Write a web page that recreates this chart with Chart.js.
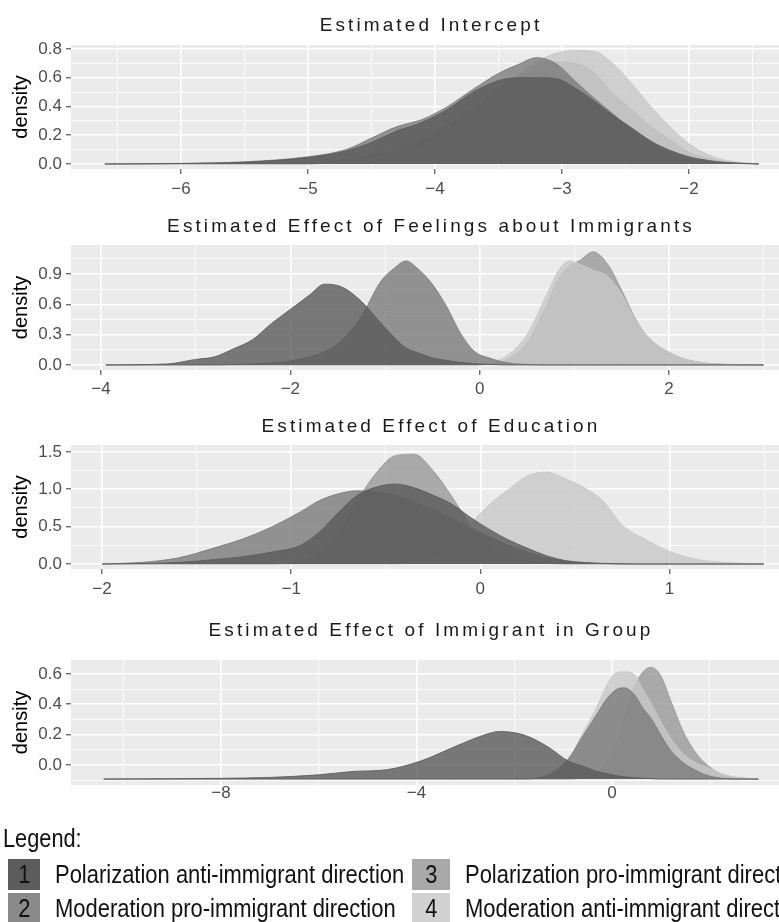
<!DOCTYPE html>
<html>
<head>
<meta charset="utf-8">
<script src="https://cdn.jsdelivr.net/npm/chart.js@4.4.1/dist/chart.umd.min.js"></script>
<style>
  html, body { margin: 0; padding: 0; background: #fff; width: 779px; height: 922px; overflow: hidden; }
  canvas { position: absolute; left: 0; }
  #legend { position: absolute; left: 0; top: 0; width: 779px; height: 922px; pointer-events: none;
            font-family: 'Liberation Sans', Arial, sans-serif; color: #111; }
  #legend .head { position: absolute; left: 3px; top: 824px; font-size: 25px; line-height: 28px;
                  transform: scaleX(0.87); transform-origin: left center; }
  #legend .box { position: absolute; height: 31px; text-align: center; line-height: 31px; font-size: 26px; }
  #legend .box span { display: inline-block; transform: scaleX(0.84); }
  #legend .lab { position: absolute; font-size: 26px; line-height: 31px; white-space: nowrap;
                 transform: scaleX(0.845); transform-origin: left center; }
</style>
</head>
<body>
<canvas id="p1" width="779" height="200" style="top:0px"></canvas>
<canvas id="p2" width="779" height="200" style="top:200px"></canvas>
<canvas id="p3" width="779" height="200" style="top:400px"></canvas>
<canvas id="p4" width="779" height="215" style="top:600px"></canvas>
<div id="legend"></div>
<script>
// ---- series (same four in every panel) ----
const seriesNames = [
  'Polarization anti-immigrant direction',
  'Moderation pro-immigrant direction',
  'Polarization pro-immigrant direction',
  'Moderation anti-immigrant direction'
];
const seriesRgb = ['90,90,90', '122,122,122', '152,152,152', '200,200,200'];
const seriesOrder = [0, 1, 3, 2];   // lower = drawn on top
const legendBoxColors = ['#5c5c5c', '#8a8a8a', '#a9a9a9', '#d2d2d2'];

// ---- Estimated Intercept ----
const intX  = [-6.6, -6.0, -5.5, -5.0, -4.7, -4.5, -4.3, -4.1, -3.9, -3.7, -3.5, -3.35, -3.2, -3.05, -2.9, -2.75, -2.6, -2.45, -2.3, -2.15, -2.0, -1.85, -1.7, -1.45];
const intS1 = [0, 0.003, 0.012, 0.045, 0.09, 0.15, 0.23, 0.29, 0.38, 0.50, 0.58, 0.60, 0.60, 0.595, 0.53, 0.44, 0.34, 0.25, 0.16, 0.095, 0.05, 0.025, 0.01, 0];
const intS2 = [0, 0.004, 0.015, 0.05, 0.10, 0.18, 0.26, 0.31, 0.40, 0.52, 0.63, 0.69, 0.74, 0.70, 0.58, 0.46, 0.35, 0.24, 0.15, 0.08, 0.04, 0.018, 0.006, 0];
const intS3 = [0, 0, 0, 0, 0.03, 0.06, 0.10, 0.17, 0.27, 0.38, 0.52, 0.61, 0.69, 0.71, 0.70, 0.64, 0.49, 0.38, 0.26, 0.17, 0.08, 0.04, 0.015, 0];
const intS4 = [0, 0, 0, 0, 0.02, 0.04, 0.07, 0.12, 0.22, 0.35, 0.50, 0.61, 0.71, 0.77, 0.79, 0.785, 0.70, 0.56, 0.40, 0.26, 0.14, 0.065, 0.025, 0];
const intXMajor = [-6, -5, -4, -3, -2];
const intXMinor = [-6.5, -5.5, -4.5, -3.5, -2.5, -1.5];
const intYMajor = [0, 0.2, 0.4, 0.6, 0.8];
const intYMinor = [0.1, 0.3, 0.5, 0.7];

// ---- Estimated Effect of Feelings about Immigrants ----
const feelX  = [-3.95, -3.3, -3.0, -2.8, -2.6, -2.4, -2.2, -2.0, -1.8, -1.64, -1.45, -1.25, -1.05, -0.9, -0.78, -0.65, -0.5, -0.35, -0.2, -0.05, 0.1, 0.3, 0.5, 0.7, 0.85, 0.95, 1.05, 1.2, 1.35, 1.5, 1.65, 1.8, 2.0, 2.2, 2.5, 3.0];
const feelS1 = [0, 0.01, 0.055, 0.08, 0.16, 0.25, 0.41, 0.55, 0.69, 0.80, 0.77, 0.63, 0.42, 0.27, 0.17, 0.12, 0.07, 0.045, 0.025, 0.012, 0.005, 0, 0, 0, 0, 0, 0, 0, 0, 0, 0, 0, 0, 0, 0, 0];
const feelS2 = [0, 0, 0, 0, 0.005, 0.01, 0.02, 0.04, 0.08, 0.13, 0.25, 0.48, 0.82, 0.96, 1.03, 0.95, 0.80, 0.58, 0.31, 0.13, 0.07, 0.02, 0.005, 0, 0, 0, 0, 0, 0, 0, 0, 0, 0, 0, 0, 0];
const feelS3 = [0, 0, 0, 0, 0, 0, 0, 0, 0, 0, 0, 0, 0, 0, 0, 0, 0, 0, 0, 0, 0.01, 0.06, 0.22, 0.58, 0.88, 0.98, 1.03, 1.12, 1.0, 0.74, 0.45, 0.25, 0.12, 0.05, 0.01, 0];
const feelS4 = [0, 0, 0, 0, 0, 0, 0, 0, 0, 0, 0, 0, 0, 0, 0, 0, 0, 0, 0, 0, 0.02, 0.10, 0.30, 0.68, 0.96, 1.03, 1.0, 0.94, 0.88, 0.70, 0.44, 0.26, 0.13, 0.05, 0.01, 0];
const feelXMajor = [-4, -2, 0, 2];
const feelXMinor = [-3, -1, 1, 3];
const feelYMajor = [0, 0.3, 0.6, 0.9];
const feelYMinor = [0.15, 0.45, 0.75, 1.05];

// ---- Estimated Effect of Education ----
const eduX  = [-2.0, -1.8, -1.6, -1.4, -1.25, -1.1, -0.95, -0.85, -0.75, -0.65, -0.55, -0.45, -0.35, -0.25, -0.15, -0.05, 0.05, 0.15, 0.25, 0.35, 0.45, 0.55, 0.65, 0.75, 0.85, 1.0, 1.15, 1.3, 1.5];
const eduS1 = [0, 0.005, 0.02, 0.06, 0.10, 0.16, 0.25, 0.43, 0.69, 0.92, 1.03, 1.07, 1.02, 0.92, 0.80, 0.62, 0.46, 0.32, 0.21, 0.11, 0.045, 0.02, 0.008, 0.003, 0, 0, 0, 0, 0];
const eduS2 = [0, 0.02, 0.08, 0.22, 0.34, 0.50, 0.70, 0.85, 0.94, 0.98, 0.96, 0.92, 0.83, 0.72, 0.60, 0.48, 0.36, 0.25, 0.16, 0.08, 0.04, 0.015, 0.005, 0, 0, 0, 0, 0, 0];
const eduS3 = [0, 0, 0, 0, 0, 0, 0.05, 0.15, 0.40, 0.85, 1.22, 1.45, 1.47, 1.25, 0.90, 0.52, 0.25, 0.10, 0.04, 0.01, 0, 0, 0, 0, 0, 0, 0, 0, 0];
const eduS4 = [0, 0, 0, 0, 0, 0, 0, 0, 0, 0, 0, 0, 0.02, 0.08, 0.25, 0.54, 0.80, 1.0, 1.18, 1.23, 1.14, 1.02, 0.84, 0.52, 0.36, 0.17, 0.06, 0.02, 0];
const eduXMajor = [-2, -1, 0, 1];
const eduXMinor = [-1.5, -0.5, 0.5, 1.5];
const eduYMajor = [0, 0.5, 1.0, 1.5];
const eduYMinor = [0.25, 0.75, 1.25];

// ---- Estimated Effect of Immigrant in Group ----
const immX  = [-10.4, -9, -8, -7, -6, -5.3, -4.6, -3.9, -3.2, -2.7, -2.3, -1.8, -1.3, -0.9, -0.6, -0.3, -0.1, 0.1, 0.25, 0.45, 0.65, 0.8, 1.0, 1.2, 1.45, 1.7, 2.0, 2.3, 2.6, 3.0];
const immS1 = [0, 0.002, 0.005, 0.011, 0.028, 0.05, 0.062, 0.12, 0.215, 0.28, 0.313, 0.29, 0.21, 0.12, 0.085, 0.05, 0.035, 0.022, 0.015, 0.009, 0.005, 0.003, 0, 0, 0, 0, 0, 0, 0, 0];
const immS2 = [0, 0, 0, 0, 0, 0, 0, 0, 0, 0, 0, 0, 0.03, 0.13, 0.28, 0.43, 0.53, 0.59, 0.60, 0.56, 0.46, 0.40, 0.29, 0.19, 0.11, 0.06, 0.02, 0.005, 0, 0];
const immS3 = [0, 0, 0, 0, 0, 0, 0, 0, 0, 0, 0, 0, 0, 0, 0.01, 0.05, 0.12, 0.25, 0.40, 0.60, 0.71, 0.735, 0.68, 0.52, 0.32, 0.18, 0.08, 0.025, 0.008, 0];
const immS4 = [0, 0, 0, 0, 0, 0, 0, 0, 0, 0, 0, 0.005, 0.02, 0.12, 0.30, 0.48, 0.62, 0.70, 0.705, 0.69, 0.58, 0.50, 0.38, 0.27, 0.17, 0.11, 0.07, 0.03, 0.01, 0];
const immXMajor = [-8, -4, 0];
const immXMinor = [-10, -6, -2, 2];
const immYMajor = [0, 0.2, 0.4, 0.6];
const immYMinor = [-0.1, 0.1, 0.3, 0.5];

// ---------------------------------------------------------------
const SANS = "'Liberation Sans', Arial, sans-serif";

function tickList(major, minor) {
  return major.map(v => ({ value: v, minor: false }))
    .concat(minor.map(v => ({ value: v, minor: true })))
    .sort((a, b) => a.value - b.value);
}
const isMinor = c => c.tick && c.tick.minor;
const fmtX = v => (v < 0 ? '\u2212' + Math.abs(v) : String(v));

const panelBg = {
  id: 'panelBg',
  beforeDraw(chart) {
    const { ctx, chartArea: a } = chart;
    ctx.save();
    ctx.fillStyle = '#ebebeb';
    ctx.fillRect(a.left, a.top, a.right - a.left, a.bottom - a.top);
    ctx.restore();
  }
};

// ggplot-like title with wide letter spacing
const spacedTitle = {
  id: 'spacedTitle',
  afterDraw(chart, args, opts) {
    const ctx = chart.ctx;
    ctx.save();
    ctx.font = opts.fontCss;
    ctx.letterSpacing = opts.spacing;
    ctx.fillStyle = '#1a1a1a';
    ctx.textAlign = 'center';
    ctx.textBaseline = 'middle';
    ctx.fillText(opts.text, opts.x, opts.y);
    ctx.restore();
  }
};

function buildPanel(id, cfg) {
  const datasets = cfg.series.map((ys, k) => ({
    label: seriesNames[k],
    data: cfg.xs.map((x, i) => ({ x: x, y: ys[i] })),
    backgroundColor: 'rgba(' + seriesRgb[k] + ',0.8)',
    borderColor: 'rgba(' + seriesRgb[k] + ',0.85)',
    borderWidth: 1,
    pointRadius: 0,
    fill: 'origin',
    order: seriesOrder[k],
    cubicInterpolationMode: 'monotone',
    yAxisID: cfg.dataY ? 'yd' : 'y'
  }));

  const scales = {
    x: {
      type: 'linear', min: cfg.xMin, max: cfg.xMax,
      afterBuildTicks: s => { s.ticks = tickList(cfg.xMajor, cfg.xMinor); },
      afterFit: s => { s.height = cfg.xAxisH; },
      border: { display: false },
      grid: {
        color: '#ffffff',
        lineWidth: c => (isMinor(c) ? 0.8 : 1.6),
        drawTicks: cfg.xTickMarks,
        tickLength: 5,
        tickWidth: 1,
        tickColor: c => (isMinor(c) ? 'rgba(0,0,0,0)' : '#333333')
      },
      ticks: {
        autoSkip: false, maxRotation: 0, padding: cfg.xPad,
        color: '#4d4d4d', font: { family: SANS, size: 17 },
        callback: (v, i, t) => (t[i].minor ? '' : fmtX(v))
      }
    },
    y: {
      type: 'linear', min: cfg.yMin, max: cfg.yMax,
      afterBuildTicks: s => { s.ticks = tickList(cfg.yMajor, cfg.yMinor); },
      afterFit: s => { s.width = 71; },
      border: { display: false },
      grid: {
        color: '#ffffff',
        lineWidth: c => (isMinor(c) ? 0.8 : 1.6),
        tickLength: 5,
        tickWidth: 1,
        tickColor: c => (isMinor(c) ? 'rgba(0,0,0,0)' : '#333333')
      },
      ticks: {
        autoSkip: false, padding: 4,
        color: '#4d4d4d', font: { family: SANS, size: 17 },
        callback: (v, i, t) => (t[i].minor ? '' : v.toFixed(1))
      },
      title: {
        display: true, text: 'density', color: '#000',
        font: { family: SANS, size: 20 },
        padding: { top: 9, bottom: 0 }
      }
    }
  };
  if (cfg.dataY) {
    scales.yd = { type: 'linear', display: false, min: cfg.dataY[0], max: cfg.dataY[1] };
  }

  return new Chart(document.getElementById(id), {
    type: 'line',
    data: { datasets: datasets },
    options: {
      responsive: false,
      animation: false,
      devicePixelRatio: 1,
      layout: { padding: { top: cfg.plotTop, left: 0, right: 0, bottom: 0 } },
      scales: scales,
      plugins: {
        legend: { display: false },
        tooltip: { enabled: false },
        spacedTitle: { text: cfg.title, x: 431, y: cfg.titleY, fontCss: '19px ' + SANS, spacing: '3.1px' }
      }
    },
    plugins: [panelBg, spacedTitle]
  });
}

buildPanel('p1', {
  title: 'Estimated Intercept', titleY: 26, plotTop: 45, xAxisH: 31, xPad: 5, xTickMarks: true,
  xs: intX, series: [intS1, intS2, intS3, intS4],
  xMin: -6.866, xMax: -1.291, xMajor: intXMajor, xMinor: intXMinor,
  yMin: -0.035, yMax: 0.828, yMajor: intYMajor, yMinor: intYMinor
});

buildPanel('p2', {
  title: 'Estimated Effect of Feelings about Immigrants', titleY: 27, plotTop: 45, xAxisH: 30, xPad: 4, xTickMarks: true,
  xs: feelX, series: [feelS1, feelS2, feelS3, feelS4],
  xMin: -4.317, xMax: 3.162, xMajor: feelXMajor, xMinor: feelXMinor,
  yMin: -0.05, yMax: 1.188, yMajor: feelYMajor, yMinor: feelYMinor
});

buildPanel('p3', {
  title: 'Estimated Effect of Education', titleY: 27, plotTop: 45, xAxisH: 31, xPad: 5, xTickMarks: true,
  xs: eduX, series: [eduS1, eduS2, eduS3, eduS4],
  xMin: -2.164, xMax: 1.579, xMajor: eduXMajor, xMinor: eduXMinor,
  yMin: -0.067, yMax: 1.593, yMajor: eduYMajor, yMinor: eduYMinor
});

buildPanel('p4', {
  title: 'Estimated Effect of Immigrant in Group', titleY: 31, plotTop: 60, xAxisH: 30, xPad: -2, xTickMarks: false,
  xs: immX, series: [immS1, immS2, immS3, immS4],
  xMin: -11.07, xMax: 3.42, xMajor: immXMajor, xMinor: immXMinor,
  yMin: -0.132, yMax: 0.691, yMajor: immYMajor, yMinor: immYMinor,
  dataY: [-0.039, 0.783]
});

// ---- legend (two columns of numbered boxes) ----
const legendCols = [{ box: 8, boxW: 32, text: 55 }, { box: 412, boxW: 38, text: 465 }];
const legendRows = [859, 893];
const legendEl = document.getElementById('legend');
let html = '<div class="head">Legend:</div>';
seriesNames.forEach((name, k) => {
  const col = legendCols[Math.floor(k / 2)];
  const top = legendRows[k % 2];
  html += '<div class="box" style="left:' + col.box + 'px;top:' + top + 'px;width:' + col.boxW +
          'px;background:' + legendBoxColors[k] + '"><span>' + (k + 1) + '</span></div>';
  html += '<div class="lab" style="left:' + col.text + 'px;top:' + top + 'px">' + name + '</div>';
});
legendEl.innerHTML = html;
</script>
</body>
</html>
